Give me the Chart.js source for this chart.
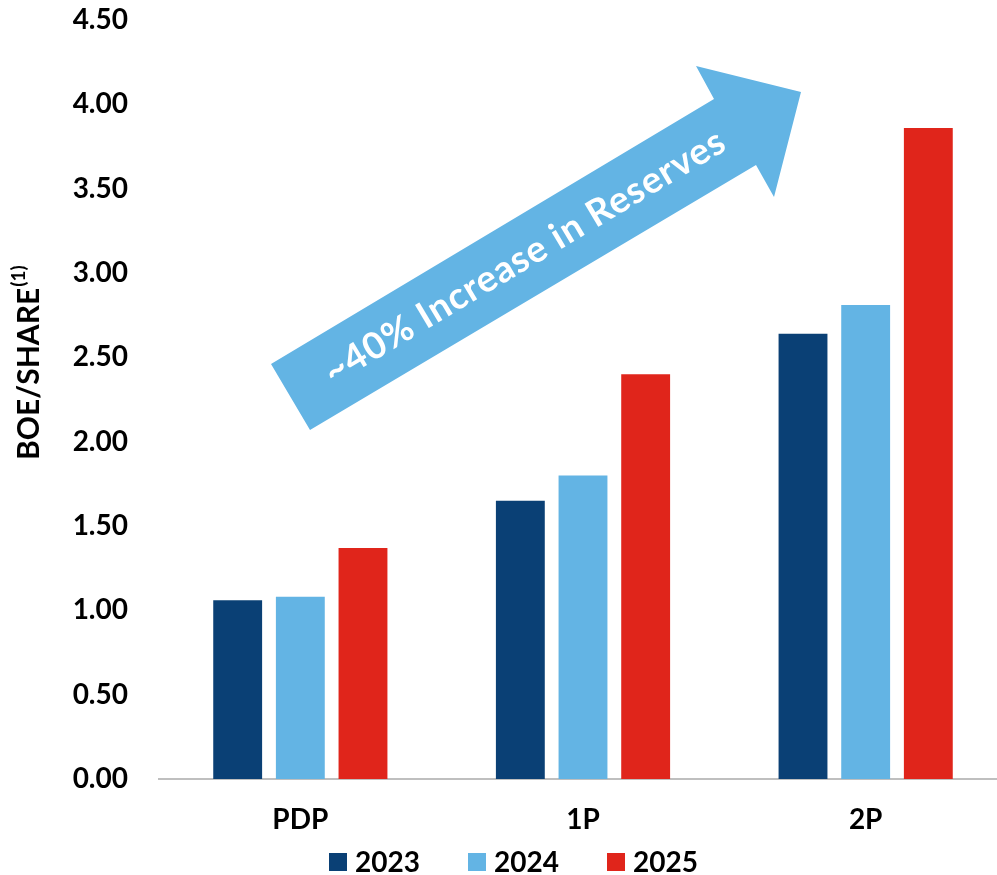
<!DOCTYPE html>
<html>
<head>
<meta charset="utf-8">
<script src="https://cdn.jsdelivr.net/npm/chart.js@4.4.1/dist/chart.umd.min.js"></script>
<style>
  html, body { margin: 0; padding: 0; overflow: hidden; background: #ffffff; }
</style>
</head>
<body>
<canvas id="reserveChart" width="1010" height="875"></canvas>
<script>
  // Data
  const categories = ['PDP', '1P', '2P'];
  const years = ['2023', '2024', '2025'];
  const values2023 = [1.06, 1.65, 2.64];
  const values2024 = [1.08, 1.80, 2.81];
  const values2025 = [1.37, 2.40, 3.86];
  const yMin = 0;
  const yMax = 4.5;
  const yStep = 0.5;

  // Colours
  const navy = '#0A4075';
  const sky = '#63B4E4';
  const red = '#E0251B';
  const black = '#000000';
  const fontFamily = 'Lato, "Open Sans", sans-serif';

  // Arrow with caption
  const arrowPlugin = {
    id: 'arrowPlugin',
    afterDatasetsDraw(chart) {
      const ctx = chart.ctx;
      const pts = [[271, 364], [714, 99], [696, 66], [801, 92], [774, 197], [756, 165], [310, 430]];
      ctx.save();
      ctx.fillStyle = sky;
      ctx.beginPath();
      pts.forEach((p, i) => i ? ctx.lineTo(p[0], p[1]) : ctx.moveTo(p[0], p[1]));
      ctx.closePath();
      ctx.fill();
      ctx.translate(531, 267);
      ctx.rotate(Math.atan2(-265, 443));
      ctx.fillStyle = '#ffffff';
      ctx.font = 'bold 37px ' + fontFamily;
      ctx.letterSpacing = '1px';
      ctx.textAlign = 'center';
      ctx.textBaseline = 'alphabetic';
      ctx.fillText('~40% Increase in Reserves', 0, 0);
      ctx.restore();
    }
  };

  // Y axis title with superscript
  const yTitlePlugin = {
    id: 'yTitlePlugin',
    afterDraw(chart) {
      const ctx = chart.ctx;
      ctx.save();
      ctx.translate(29, 460);
      ctx.rotate(-Math.PI / 2);
      ctx.fillStyle = black;
      ctx.textAlign = 'left';
      ctx.textBaseline = 'middle';
      ctx.font = 'bold 30px ' + fontFamily;
      const main = 'BOE/SHARE';
      ctx.fillText(main, 0, 0);
      const w = ctx.measureText(main).width;
      ctx.font = 'bold 19px ' + fontFamily;
      ctx.fillText('(1)', w + 1, -10);
      ctx.restore();
    }
  };

  // Legend drawn by hand so spacing matches
  const legendPlugin = {
    id: 'legendPlugin',
    afterDraw(chart) {
      const ctx = chart.ctx;
      ctx.save();
      ctx.font = 'bold 28px ' + fontFamily;
      ctx.textBaseline = 'middle';
      ctx.textAlign = 'left';
      chart.data.datasets.forEach((ds, i) => {
        const x = 329 + i * 139;
        ctx.fillStyle = ds.backgroundColor;
        ctx.fillRect(x, 853, 18, 18);
        ctx.fillStyle = black;
        ctx.fillText(ds.label, x + 26, 863);
      });
      ctx.restore();
    }
  };

  const ctx = document.getElementById('reserveChart').getContext('2d');
  new Chart(ctx, {
    type: 'bar',
    data: {
      labels: categories,
      datasets: [
        { label: years[0], data: values2023, backgroundColor: navy },
        { label: years[1], data: values2024, backgroundColor: sky },
        { label: years[2], data: values2025, backgroundColor: red }
      ]
    },
    options: {
      responsive: false,
      animation: false,
      devicePixelRatio: 1,
      categoryPercentage: 0.665,
      barPercentage: 0.78,
      layout: { padding: { top: 20, right: 3, bottom: 0, left: 0 } },
      plugins: {
        legend: { display: false },
        tooltip: { enabled: false }
      },
      scales: {
        x: {
          grid: { display: false, drawTicks: false },
          border: { display: true, color: '#BFBFBF', width: 2 },
          ticks: {
            color: black,
            padding: 24,
            font: { family: fontFamily, size: 28, weight: 'bold' }
          },
          afterFit(scale) { scale.height = 96; }
        },
        y: {
          min: yMin,
          max: yMax,
          grid: { display: false, drawTicks: false },
          border: { display: false },
          ticks: {
            stepSize: yStep,
            color: black,
            padding: 31,
            font: { family: fontFamily, size: 28, weight: 'bold' },
            callback: (v) => Number(v).toFixed(2)
          },
          afterFit(scale) {
            scale.width = 159;
            scale.paddingTop = 0;
            scale.paddingBottom = 0;
          }
        }
      }
    },
    plugins: [arrowPlugin, yTitlePlugin, legendPlugin]
  });
</script>
</body>
</html>
